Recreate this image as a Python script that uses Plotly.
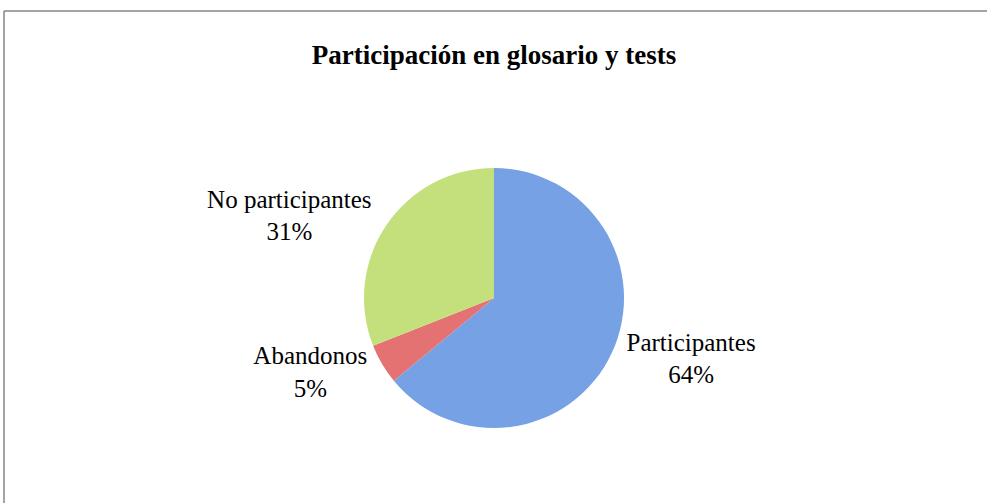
import plotly.graph_objects as go

labels = ["Participantes", "Abandonos", "No participantes"]
values = [64, 5, 31]
colors = ["#76a1e5", "#e47272", "#c3e07c"]

W, H = 987, 503

fig = go.Figure(
    go.Pie(
        labels=labels,
        values=values,
        sort=False,
        direction="clockwise",
        rotation=0,
        marker=dict(colors=colors, line=dict(width=0)),
        textposition="outside",
        texttemplate="%{label}<br>%{percent:.0%}",
        textfont=dict(family="Liberation Serif", size=25, color="#000000"),
        hoverinfo="label+percent",
        showlegend=False,
        domain=dict(x=[364 / W, 624 / W], y=[(H - 428) / H, (H - 168) / H]),
    )
)

# chart frame (left and top edges visible)
fig.add_shape(type="line", xref="paper", yref="paper", x0=4 / W, x1=4 / W, y0=0, y1=1 - 11 / H,
              line=dict(color="#868686", width=1.5))
fig.add_shape(type="line", xref="paper", yref="paper", x0=4 / W, x1=1, y0=1 - 11 / H, y1=1 - 11 / H,
              line=dict(color="#868686", width=1.5))

fig.update_layout(
    width=W,
    height=H,
    margin=dict(l=0, r=0, t=0, b=0),
    paper_bgcolor="white",
    plot_bgcolor="white",
    title=dict(
        text="<b>Participación en glosario y tests</b>",
        x=494 / W,
        xanchor="center",
        y=1 - 55 / H,
        yanchor="middle",
        font=dict(family="Liberation Serif", size=27, color="#000000"),
    ),
)

# drop the page's default body margin so the figure sits at the window's corner
fig.write_html(
    "out.html",
    config={"displayModeBar": False},
    post_script="document.body.style.margin='0';",
)
